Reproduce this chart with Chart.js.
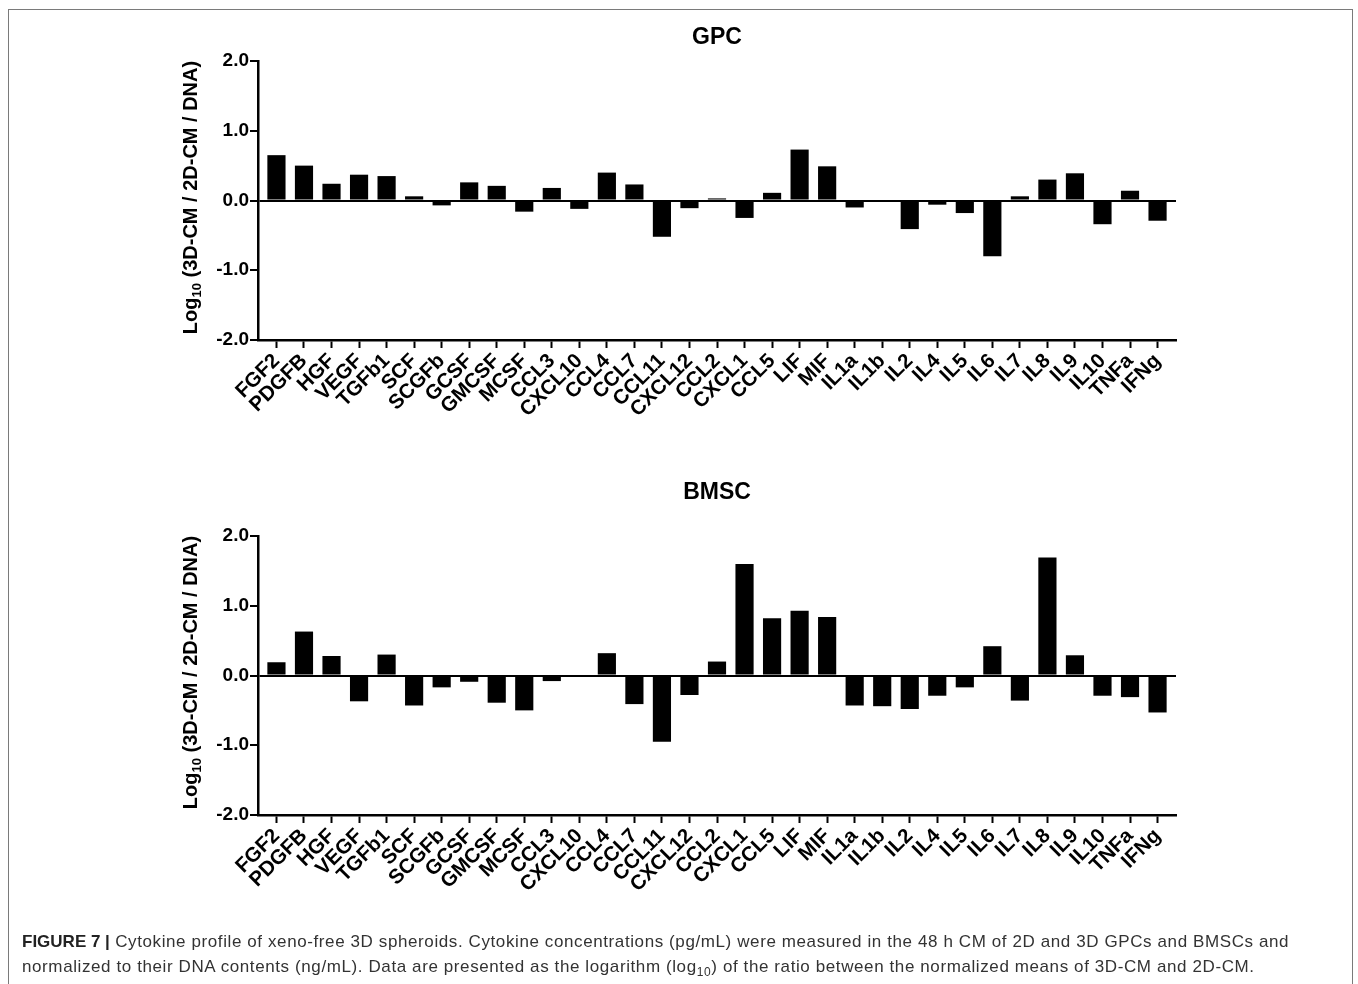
<!DOCTYPE html>
<html lang="en">
<head>
  <meta charset="UTF-8" />
  <title>Figure 7 - cytokine profile</title>
  <script src="https://cdn.jsdelivr.net/npm/chart.js"></script>
  <style>
    body{ margin:0; background:#fff; width:1358px; height:984px; overflow:hidden; position:relative; font-family:"Liberation Sans", Arial, sans-serif; }
    .frame{ position:absolute; left:8px; top:9px; width:1343px; height:1000px; border:1px solid #7a7a7a; }
    .chartbox{ position:absolute; left:0; width:1358px; height:470px; }
    #box1{ top:0; }
    #box2{ top:475px; }
    .caption{ position:absolute; left:22px; top:929px; font-size:17px; letter-spacing:0.6px; line-height:25px; color:#333; white-space:nowrap; }
    .caption b{ color:#222; letter-spacing:0; }
  </style>
</head>
<body>
  <div class="frame"></div>
  <div class="chartbox" id="box1"><canvas id="gpc"></canvas></div>
  <div class="chartbox" id="box2"><canvas id="bmsc"></canvas></div>
  <div class="caption">
    <b>FIGURE 7 |</b> Cytokine profile of xeno-free 3D spheroids. Cytokine concentrations (pg/mL) were measured in the 48 h CM of 2D and 3D GPCs and BMSCs and<br>
    normalized to their DNA contents (ng/mL). Data are presented as the logarithm (log<sub style="font-size:12px">10</sub>) of the ratio between the normalized means of 3D-CM and 2D-CM.
  </div>

  <script>
    const categories = ['FGF2','PDGFB','HGF','VEGF','TGFb1','SCF','SCGFb','GCSF','GMCSF','MCSF','CCL3','CXCL10','CCL4','CCL7','CCL11','CXCL12','CCL2','CXCL1','CCL5','LIF','MIF','IL1a','IL1b','IL2','IL4','IL5','IL6','IL7','IL8','IL9','IL10','TNFa','IFNg'];
    const gpcValues = [0.65,0.50,0.24,0.37,0.35,0.06,-0.07,0.26,0.21,-0.16,0.18,-0.12,0.40,0.23,-0.52,-0.11,0.03,-0.25,0.11,0.73,0.49,-0.10,0.00,-0.41,-0.06,-0.18,-0.80,0.06,0.30,0.39,-0.34,0.14,-0.29];
    const bmscValues = [0.19,0.63,0.28,-0.37,0.30,-0.43,-0.17,-0.09,-0.39,-0.50,-0.08,0.00,0.32,-0.41,-0.95,-0.28,0.20,1.60,0.82,0.93,0.84,-0.43,-0.44,-0.48,-0.29,-0.17,0.42,-0.36,1.69,0.29,-0.29,-0.31,-0.53];
    const yTicks = [-2, -1, 0, 1, 2];

    const FONT = '"Liberation Sans", Arial, sans-serif';

    // y axis title, drawn by hand because of the subscript 10
    const yLabel = {
      id: 'ylabel',
      afterDraw(chart){
        const ctx = chart.ctx, a = chart.chartArea;
        ctx.save();
        ctx.translate(191, (a.top + a.bottom) / 2 - 3);
        ctx.rotate(-Math.PI / 2);
        ctx.fillStyle = '#000';
        ctx.textBaseline = 'middle';
        ctx.textAlign = 'left';
        const big = 'bold 20px ' + FONT, small = 'bold 13px ' + FONT;
        ctx.font = big;
        const w1 = ctx.measureText('Log').width;
        const w3 = ctx.measureText(' (3D-CM / 2D-CM / DNA)').width;
        ctx.font = small;
        const w2 = ctx.measureText('10').width;
        let x = -(w1 + w2 + w3) / 2;
        ctx.font = big; ctx.fillText('Log', x, 0); x += w1;
        ctx.font = small; ctx.fillText('10', x, 6); x += w2;
        ctx.font = big; ctx.fillText(' (3D-CM / 2D-CM / DNA)', x, 0);
        ctx.restore();
      }
    };

    function makeChart(id, title, values, titlePad){
      return new Chart(document.getElementById(id), {
        type: 'bar',
        data: {
          datasets: [{
            data: values.map((v, i) => ({x: i, y: v})),
            backgroundColor: '#000',
            borderWidth: 0,
            barPercentage: 0.66,
            categoryPercentage: 1
          }]
        },
        options: {
          responsive: true,
          maintainAspectRatio: false,
          animation: false,
          layout: { padding: { left: 198, right: 182, top: 0, bottom: 0 } },
          plugins: {
            legend: { display: false },
            tooltip: { enabled: false },
            title: {
              display: true, text: title, color: '#000', fullSize: false,
              font: { family: FONT, size: 23, weight: 'bold' },
              padding: titlePad
            }
          },
          scales: {
            x: {
              type: 'linear',
              offset: false,
              min: -0.67, max: categories.length - 1 + 0.67,
              afterBuildTicks: s => { s.ticks = categories.map((c, i) => ({value: i})); },
              afterFit: s => { s.height = 130; },
              grid: { offset: false, drawOnChartArea: false, drawTicks: true, tickLength: 8, tickColor: '#000', tickWidth: 2 },
              border: { display: true, color: '#000', width: 2.5 },
              ticks: {
                autoSkip: false, maxRotation: 45, minRotation: 45, padding: 1, labelOffset: 0, color: '#000',
                font: { family: FONT, size: 20.5, weight: 'bold' },
                callback: v => categories[v]
              }
            },
            y: {
              min: -2, max: 2,
              afterBuildTicks: s => { s.ticks = yTicks.map(v => ({value: v})); },
              afterFit: s => { s.width = 60; },
              grid: {
                drawOnChartArea: true, drawTicks: true, tickLength: 8, tickColor: '#000', tickWidth: 2,
                color: c => (c.tick && c.tick.value === 0) ? '#000' : 'rgba(0,0,0,0)',
                lineWidth: 2
              },
              border: { display: true, color: '#000', width: 2.5 },
              ticks: {
                padding: 1, color: '#000',
                font: { family: FONT, size: 19, weight: 'bold' },
                callback: v => v.toFixed(1)
              }
            }
          }
        },
        plugins: [yLabel]
      });
    }

    makeChart('gpc', 'GPC', gpcValues, { top: 24, bottom: 9.4 });
    makeChart('bmsc', 'BMSC', bmscValues, { top: 4, bottom: 29.4 });
  </script>
</body>
</html>
